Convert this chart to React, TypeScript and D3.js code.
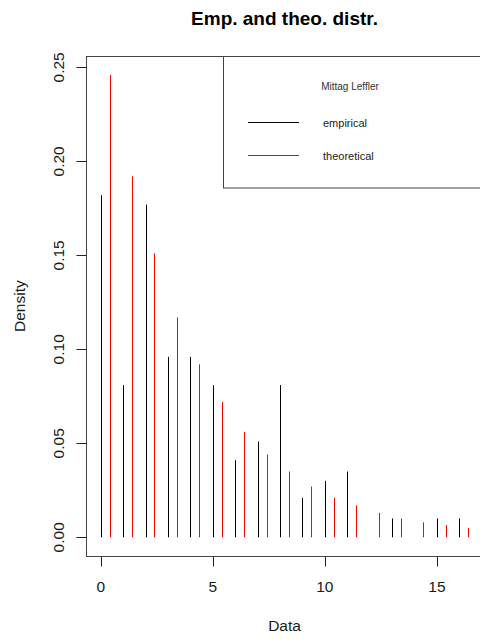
import React, { useRef, useEffect } from "react";
import * as d3 from "d3";

// empirical density (black spikes)
const empX = [0, 1, 2, 3, 4, 5, 6, 7, 8, 9, 10, 11, 13, 15, 16];
const empY = [0.182, 0.081, 0.177, 0.096, 0.096, 0.081, 0.041, 0.051, 0.081, 0.021, 0.030, 0.035, 0.010, 0.010, 0.010];

// theoretical Mittag-Leffler density (red spikes)
const theoX = [0.4, 1.4, 2.4, 3.4, 4.4, 5.4, 6.4, 7.4, 8.4, 9.4, 10.4, 11.4, 12.4, 13.4, 14.4, 15.4, 16.4];
const theoY = [0.246, 0.192, 0.151, 0.117, 0.092, 0.072, 0.056, 0.044, 0.035, 0.027, 0.021, 0.017, 0.013, 0.010, 0.008, 0.0065, 0.005];

const xTicks = [0, 5, 10, 15];
const yTicks = [0, 0.05, 0.1, 0.15, 0.2, 0.25];

const legendTitle = "Mittag Leffler";
const legendLabels = ["empirical", "theoretical"];
const legendColors = ["#000000", "#ff0000"];

const App = () => {
  const svgRef = useRef<SVGSVGElement>(null);

  useEffect(() => {
    const width = 480;
    const height = 639;
    const plot = { left: 86, right: 483, top: 56.4, bottom: 555.8 };
    const font = "'Liberation Sans', Arial, sans-serif";

    const svg = d3.select(svgRef.current).attr("width", width).attr("height", height);
    svg.selectAll("*").remove();

    // R style: 4% padding around the data range
    const allX = [...empX, ...theoX];
    const allY = [...empY, ...theoY, 0];
    const [x0, x1] = d3.extent(allX) as [number, number];
    const [y0, y1] = d3.extent(allY) as [number, number];
    const px = (x1 - x0) * 0.04;
    const py = (y1 - y0) * 0.04;

    const x = d3.scaleLinear().domain([x0 - px, x1 + px]).range([plot.left, plot.right]);
    const y = d3.scaleLinear().domain([y0 - py, y1 + py]).range([plot.bottom, plot.top]);

    const crisp = (v: number) => Math.round(v) + 0.5;

    // spikes
    const spikes = (xs: number[], ys: number[], color: string) => {
      svg.append("g")
        .selectAll("line")
        .data(xs.map((d, i) => ({ x: d, y: ys[i] })))
        .enter()
        .append("line")
        .attr("x1", (d) => crisp(x(d.x)))
        .attr("x2", (d) => crisp(x(d.x)))
        .attr("y1", y(0))
        .attr("y2", (d) => y(d.y))
        .attr("stroke", color)
        .attr("stroke-width", 1);
    };
    spikes(empX, empY, legendColors[0]);
    spikes(theoX, theoY, legendColors[1]);

    // plot box
    svg.append("rect")
      .attr("x", crisp(plot.left))
      .attr("y", crisp(plot.top))
      .attr("width", plot.right - plot.left)
      .attr("height", Math.round(plot.bottom) - Math.round(plot.top))
      .attr("fill", "none")
      .attr("stroke", "#444")
      .attr("stroke-width", 1);

    // x axis ticks
    const gx = svg.append("g");
    gx.selectAll("line")
      .data(xTicks)
      .enter()
      .append("line")
      .attr("x1", (d) => crisp(x(d)))
      .attr("x2", (d) => crisp(x(d)))
      .attr("y1", crisp(plot.bottom))
      .attr("y2", crisp(plot.bottom) + 10)
      .attr("stroke", "#222");
    gx.selectAll("text")
      .data(xTicks)
      .enter()
      .append("text")
      .attr("x", (d) => x(d))
      .attr("y", 592)
      .attr("text-anchor", "middle")
      .attr("font-family", font)
      .attr("font-size", 15.5)
      .attr("fill", "#1a1a1a")
      .text((d) => String(d));

    // y axis ticks
    const gy = svg.append("g");
    gy.selectAll("line")
      .data(yTicks)
      .enter()
      .append("line")
      .attr("x1", crisp(plot.left) - 10)
      .attr("x2", crisp(plot.left))
      .attr("y1", (d) => crisp(y(d)))
      .attr("y2", (d) => crisp(y(d)))
      .attr("stroke", "#222");
    gy.selectAll("text")
      .data(yTicks)
      .enter()
      .append("text")
      .attr("transform", (d) => `translate(64,${y(d)}) rotate(-90)`)
      .attr("text-anchor", "middle")
      .attr("font-family", font)
      .attr("font-size", 15.5)
      .attr("fill", "#1a1a1a")
      .text((d) => d.toFixed(2));

    // titles
    const cx = (plot.left + plot.right) / 2;
    svg.append("text")
      .attr("x", cx)
      .attr("y", 25)
      .attr("text-anchor", "middle")
      .attr("font-family", font)
      .attr("font-size", 19)
      .attr("font-weight", "bold")
      .attr("fill", "#000")
      .text("Emp. and theo. distr.");

    svg.append("text")
      .attr("x", cx)
      .attr("y", 631)
      .attr("text-anchor", "middle")
      .attr("font-family", font)
      .attr("font-size", 15.5)
      .attr("fill", "#1a1a1a")
      .text("Data");

    svg.append("text")
      .attr("transform", `translate(25,${(plot.top + plot.bottom) / 2}) rotate(-90)`)
      .attr("text-anchor", "middle")
      .attr("font-family", font)
      .attr("font-size", 15.5)
      .attr("fill", "#1a1a1a")
      .text("Density");

    // legend (top right, runs past the window edge like the plot box)
    const lg = svg.append("g");
    lg.append("rect")
      .attr("x", 223.5)
      .attr("y", crisp(plot.top))
      .attr("width", plot.right - 223.5)
      .attr("height", 188 - crisp(plot.top))
      .attr("fill", "white")
      .attr("stroke", "#444")
      .attr("stroke-width", 1);
    lg.append("text")
      .attr("x", 350)
      .attr("y", 90)
      .attr("text-anchor", "middle")
      .attr("font-family", font)
      .attr("font-size", 10)
      .attr("fill", "#333")
      .text(legendTitle);
    legendLabels.forEach((label, i) => {
      const ly = 122.5 + i * 33;
      lg.append("line")
        .attr("x1", 248)
        .attr("x2", 299)
        .attr("y1", ly)
        .attr("y2", ly)
        .attr("stroke", legendColors[i])
        .attr("stroke-width", 1);
      lg.append("text")
        .attr("x", 323)
        .attr("y", ly + 4.5)
        .attr("font-family", font)
        .attr("font-size", 11)
        .attr("fill", "#222")
        .text(label);
    });
  }, []);

  return (
    <svg ref={svgRef} style={{ position: "absolute", left: 0, top: 0, background: "white" }}></svg>
  );
};

export default App;
